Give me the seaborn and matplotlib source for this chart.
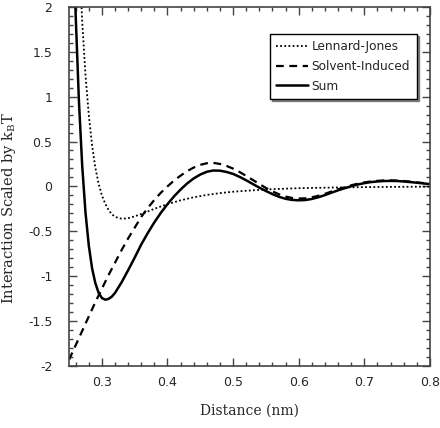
import matplotlib
matplotlib.use("Agg")
import matplotlib.pyplot as plt
import seaborn as sns

# values
lj_x = [0.265, 0.27, 0.275, 0.28, 0.285, 0.29, 0.295, 0.30, 0.305, 0.31, 0.315, 0.32,
        0.325, 0.33, 0.335, 0.34, 0.35, 0.36, 0.37, 0.38, 0.39, 0.40, 0.42, 0.44,
        0.46, 0.48, 0.50, 0.55, 0.60, 0.65, 0.70, 0.75, 0.80]
lj_y = [2.64, 1.84, 1.24, 0.80, 0.46, 0.21, 0.03, -0.10, -0.19, -0.26, -0.31, -0.337,
        -0.352, -0.359, -0.358, -0.354, -0.334, -0.307, -0.279, -0.250, -0.223, -0.198,
        -0.155, -0.121, -0.095, -0.075, -0.059, -0.034, -0.02, -0.013, -0.008, -0.005, -0.003]

solv_x = [0.25, 0.26, 0.27, 0.28, 0.29, 0.30, 0.31, 0.32, 0.33, 0.34, 0.35, 0.36, 0.37,
          0.38, 0.39, 0.40, 0.41, 0.42, 0.43, 0.44, 0.45, 0.46, 0.47, 0.48, 0.49, 0.50,
          0.51, 0.52, 0.53, 0.54, 0.55, 0.56, 0.57, 0.58, 0.59, 0.60, 0.61, 0.62, 0.63,
          0.64, 0.65, 0.66, 0.67, 0.68, 0.69, 0.70, 0.71, 0.72, 0.73, 0.74, 0.75, 0.76,
          0.77, 0.78, 0.79, 0.80]
solv_y = [-1.93, -1.77, -1.61, -1.45, -1.29, -1.14, -0.99, -0.85, -0.71, -0.58, -0.46,
          -0.34, -0.24, -0.15, -0.07, 0.0, 0.065, 0.12, 0.17, 0.21, 0.24, 0.258, 0.262,
          0.25, 0.228, 0.198, 0.16, 0.117, 0.072, 0.027, -0.017, -0.055, -0.088, -0.113,
          -0.129, -0.135, -0.133, -0.122, -0.104, -0.083, -0.057, -0.032, -0.01, 0.012,
          0.03, 0.044, 0.055, 0.062, 0.066, 0.067, 0.065, 0.06, 0.053, 0.045, 0.037, 0.03]

sum_x = [0.258, 0.26, 0.265, 0.27, 0.275, 0.28, 0.285, 0.29, 0.295, 0.30, 0.305, 0.31,
         0.315, 0.32, 0.33, 0.34, 0.35, 0.36, 0.37, 0.38, 0.39, 0.40, 0.41, 0.42, 0.43,
         0.44, 0.45, 0.46, 0.47, 0.48, 0.49, 0.50, 0.51, 0.52, 0.53, 0.54, 0.55, 0.56,
         0.57, 0.58, 0.59, 0.60, 0.61, 0.62, 0.63, 0.64, 0.65, 0.66, 0.67, 0.68, 0.69,
         0.70, 0.71, 0.72, 0.73, 0.74, 0.75, 0.76, 0.77, 0.78, 0.79, 0.80]
sum_y = [2.40, 1.92, 0.95, 0.23, -0.29, -0.655, -0.91, -1.077, -1.185, -1.243, -1.262,
         -1.254, -1.229, -1.187, -1.069, -0.934, -0.794, -0.647, -0.519, -0.40, -0.293,
         -0.198, -0.111, -0.035, 0.033, 0.089, 0.132, 0.163, 0.177, 0.175, 0.161, 0.139,
         0.106, 0.068, 0.027, -0.014, -0.051, -0.086, -0.116, -0.138, -0.151, -0.155,
         -0.152, -0.140, -0.121, -0.097, -0.070, -0.044, -0.021, 0.002, 0.021, 0.036,
         0.048, 0.055, 0.06, 0.061, 0.06, 0.055, 0.048, 0.041, 0.033, 0.026]

x_ticks = [0.3, 0.4, 0.5, 0.6, 0.7, 0.8]
x_ticklabels = ["0.3", "0.4", "0.5", "0.6", "0.7", "0.8"]
y_ticks = [-2, -1.5, -1, -0.5, 0, 0.5, 1, 1.5, 2]
y_ticklabels = ["-2", "-1.5", "-1", "-0.5", "0", "0.5", "1", "1.5", "2"]

sns.set_style("ticks")
plt.rcParams["axes.unicode_minus"] = False
plt.rcParams["font.family"] = ["DejaVu Sans"]

fig = plt.figure(figsize=(4.4, 4.28), dpi=100)
ax = fig.add_axes([0.157, 0.145, 0.82, 0.839])

sns.lineplot(x=lj_x, y=lj_y, ax=ax, color="black", lw=1.3,
             linestyle=(0, (1, 1.3)), label="Lennard-Jones", sort=False)
sns.lineplot(x=solv_x, y=solv_y, ax=ax, color="black", lw=1.6,
             linestyle=(0, (3.5, 2.5)), label="Solvent-Induced", sort=False)
sns.lineplot(x=sum_x, y=sum_y, ax=ax, color="black", lw=1.8,
             label="Sum", sort=False)

ax.set_xlim(0.25, 0.8)
ax.set_ylim(-2, 2)
ax.set_xticks(x_ticks)
ax.set_xticklabels(x_ticklabels)
ax.set_yticks(y_ticks)
ax.set_yticklabels(y_ticklabels)
ax.xaxis.set_minor_locator(matplotlib.ticker.MultipleLocator(0.02))
ax.yaxis.set_minor_locator(matplotlib.ticker.MultipleLocator(0.1))
ax.tick_params(which="both", direction="in", top=True, right=True, color="#444444", width=1)
ax.tick_params(which="major", length=6, labelsize=9)
ax.tick_params(axis="y", which="major", pad=12)
ax.tick_params(axis="x", which="major", pad=7)
ax.tick_params(which="minor", length=3)
for s in ax.spines.values():
    s.set_visible(True)
    s.set_color("#444444")
    s.set_linewidth(1.2)

ax.set_xlabel("Distance (nm)", family="DejaVu Serif", fontsize=10)
ax.set_ylabel("Interaction Scaled by k$_\\mathregular{B}$T", family="DejaVu Serif", fontsize=10.5)
ax.xaxis.set_label_coords(0.5, -0.105)
ax.yaxis.set_label_coords(-0.141, 0.44)

leg = ax.legend(loc="upper right", bbox_to_anchor=(0.963, 0.925), borderaxespad=0,
                fontsize=8.7, handlelength=2.6, handletextpad=0.3, labelspacing=0.55,
                borderpad=0.55, fancybox=False, edgecolor="black", framealpha=1,
                shadow={"ox": 1.5, "oy": -1.5, "color": "0.15"})
leg.get_frame().set_linewidth(1.0)

fig.savefig("out.png", dpi=100)
